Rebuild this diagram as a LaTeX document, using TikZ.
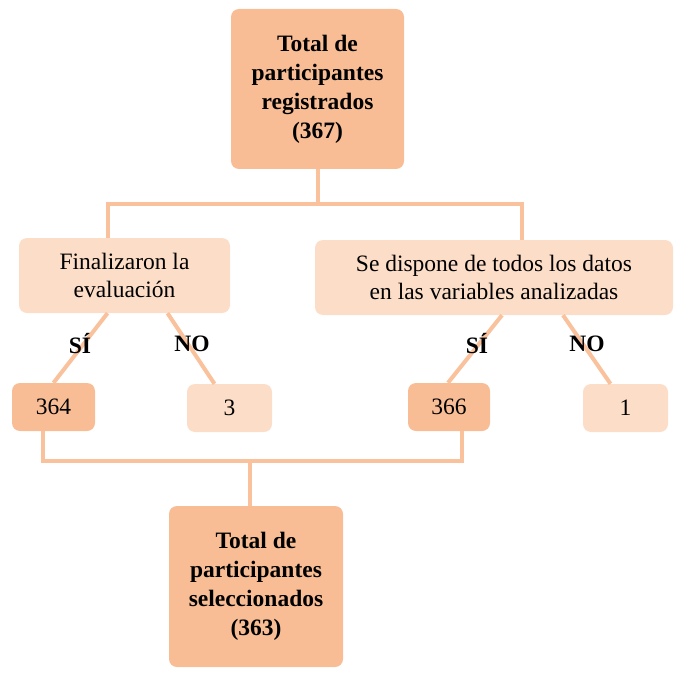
\documentclass[tikz,border=0pt]{standalone}
\usepackage{fontspec}
\setmainfont{Liberation Serif}
\usetikzlibrary{calc}
\definecolor{darkpeach}{HTML}{F8BD94}
\definecolor{lightpeach}{HTML}{FCDDC7}
\definecolor{linepeach}{HTML}{F9C19C}
\begin{document}
\begin{tikzpicture}[x=1pt,y=-1pt,
  box/.style={rounded corners=8pt, draw=none, inner sep=0pt, align=center,
    font=\fontsize{23.5}{28}\selectfont},
  darkbox/.style={box, fill=darkpeach},
  lightbox/.style={box, fill=lightpeach},
  boldbox/.style={darkbox, font=\fontsize{23.5}{29}\selectfont\bfseries},
  conn/.style={draw=linepeach, line width=4pt},
  lab/.style={font=\fontsize{23.5}{28}\selectfont\bfseries, inner sep=0pt}]
\useasboundingbox (0,0) rectangle (679,679);
\node[boldbox, minimum width=173pt, minimum height=160pt] (top) at (317.5,89)
  {Total de\\participantes\\registrados\\(367)};
\node[lightbox, minimum width=211pt, minimum height=75pt] (left) at (124.5,275.5)
  {Finalizaron la\\evaluación};
\node[lightbox, minimum width=358pt, minimum height=75pt] (right) at (494,277.5)
  {Se dispone de todos los datos\\en las variables analizadas};
\node[darkbox, minimum width=83pt, minimum height=48pt] (b364) at (53.5,407) {364};
\node[lightbox, minimum width=85pt, minimum height=48pt] (b3) at (229.5,408) {3};
\node[darkbox, minimum width=82pt, minimum height=48pt] (b366) at (449,407) {366};
\node[lightbox, minimum width=85pt, minimum height=48pt] (b1) at (625.5,408) {1};
\node[boldbox, minimum width=174pt, minimum height=161pt] (bottom) at (256,586.5)
  {Total de\\participantes\\seleccionados\\(363)};
% junctions
\coordinate (j1) at (317.5,204);
\coordinate (lx) at (108,0);
\coordinate (rx) at (522,0);
\coordinate (j2) at (250,461);
\coordinate (bl) at (43,0);
\coordinate (br) at (462,0);
\draw[conn] (top.south) -- (j1);
\draw[conn] (lx |- left.north) |- (j1) -| (rx |- right.north);
\draw[conn] ($(left.south)+(-17,0)$) -- (b364.north);
\draw[conn] ($(left.south)+(43,0)$) -- ($(b3.north)+(-15,0)$);
\draw[conn] ($(right.south)+(8,0)$) -- ($(b366.north)+(-1,0)$);
\draw[conn] ($(right.south)+(69,0)$) -- ($(b1.north)+(-15,0)$);
\draw[conn] (bl |- b364.south) |- (j2) -| (br |- b366.south);
\draw[conn] (j2) -- (j2 |- bottom.north);
\node[lab] (s1) at (80,344) {SÍ};
\node[lab] (n1) at (192,344) {NO};
\node[lab] (s2) at (477,344) {SÍ};
\node[lab] (n2) at (587,344) {NO};
\end{tikzpicture}
\end{document}
